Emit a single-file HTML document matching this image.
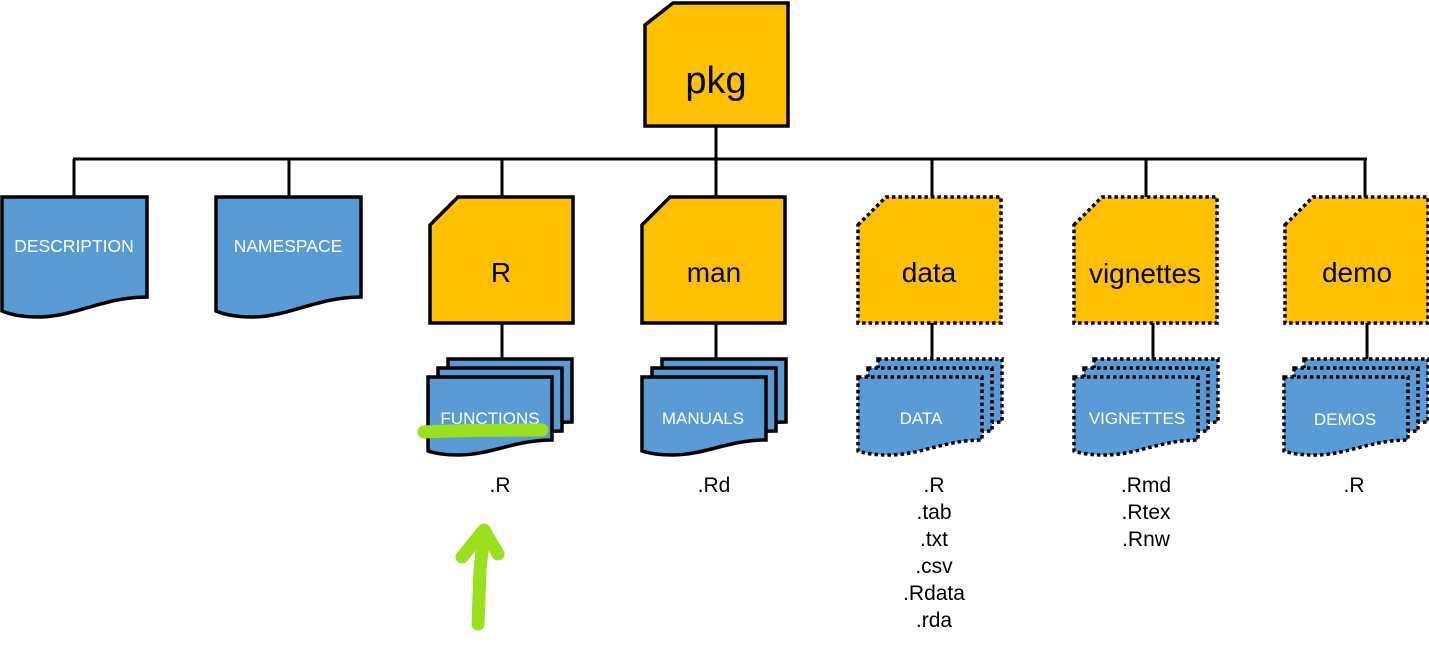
<!DOCTYPE html>
<html><head><meta charset="utf-8"><style>
html,body{margin:0;padding:0;background:#fff;}
svg{display:block;}
text{font-family:"Liberation Sans",Arial,sans-serif;}
</style></head><body>
<svg width="1429" height="646" viewBox="0 0 1429 646" xmlns="http://www.w3.org/2000/svg">
<defs>
<path id="doc" d="M0 377 H124 V440 C87 440 62 455 31 455 C15 455 6 453 0 451 Z"/>
<path id="fold" d="M0 225 L28 197 H143 V323 H0 Z"/>
</defs>
<g stroke="#000" stroke-width="3" fill="none">
<line x1="73" y1="159" x2="1367" y2="159"/>
<line x1="716" y1="126" x2="716" y2="159"/>
<line x1="74" y1="159" x2="74" y2="197"/>
<line x1="289" y1="159" x2="289" y2="197"/>
<line x1="502" y1="159" x2="502" y2="197"/>
<line x1="716" y1="159" x2="716" y2="197"/>
<line x1="932" y1="159" x2="932" y2="197"/>
<line x1="1146" y1="159" x2="1146" y2="197"/>
<line x1="1365" y1="159" x2="1365" y2="197"/>
<line x1="502" y1="323" x2="502" y2="359"/>
<line x1="716" y1="323" x2="716" y2="359"/>
<line x1="932" y1="323" x2="932" y2="359"/>
<line x1="1153" y1="323" x2="1153" y2="359"/>
<line x1="1367" y1="323" x2="1367" y2="359"/>
</g>
<!-- pkg -->
<path d="M645 25 L673 3 H788 V126 H645 Z" fill="#FFC000" stroke="#000" stroke-width="3.5"/>
<text x="716" y="93" font-size="38" text-anchor="middle">pkg</text>
<!-- description / namespace -->
<path d="M2 197 H147 V297 C103.5 297 74.5 317 38.25 317 C19.4 317 9.25 314 2 311 Z" fill="#5B9BD5" stroke="#000" stroke-width="3.5"/>
<text x="74" y="252" font-size="17.5" fill="#fff" text-anchor="middle">DESCRIPTION</text>
<path d="M216 197 H361 V297 C317.5 297 288.5 317 252.25 317 C233.4 317 223.25 314 216 311 Z" fill="#5B9BD5" stroke="#000" stroke-width="3.5"/>
<text x="288" y="252" font-size="17.5" fill="#fff" text-anchor="middle">NAMESPACE</text>
<!-- folders solid -->
<g fill="#FFC000" stroke="#000" stroke-width="3.5">
<use href="#fold" transform="translate(430,0)"/>
<use href="#fold" transform="translate(642,0)"/>
</g>
<g fill="#FFC000" stroke="#000" stroke-width="3.5" stroke-dasharray="3.5 3">
<use href="#fold" transform="translate(858,0)"/>
<use href="#fold" transform="translate(1074,0)"/>
<use href="#fold" transform="translate(1285,0)"/>
</g>
<g font-size="28" text-anchor="middle">
<text x="501" y="282">R</text>
<text x="714" y="282">man</text>
<text x="929" y="282">data</text>
<text x="1145" y="283">vignettes</text>
<text x="1357" y="282">demo</text>
</g>
<!-- stacks solid -->
<g fill="#5B9BD5" stroke="#000" stroke-width="3.5">
<g transform="translate(428,0)"><use href="#doc" transform="translate(20,-18)"/><use href="#doc" transform="translate(10,-9)"/><use href="#doc"/></g>
<g transform="translate(642,0)"><use href="#doc" transform="translate(20,-18)"/><use href="#doc" transform="translate(10,-9)"/><use href="#doc"/></g>
</g>
<g fill="#5B9BD5" stroke="#000" stroke-width="3.5" stroke-dasharray="3.5 3">
<g transform="translate(858,0)"><use href="#doc" transform="translate(20,-18)"/><use href="#doc" transform="translate(10,-9)"/><use href="#doc"/></g>
<g transform="translate(1074,0)"><use href="#doc" transform="translate(20,-18)"/><use href="#doc" transform="translate(10,-9)"/><use href="#doc"/></g>
<g transform="translate(1284,0)"><use href="#doc" transform="translate(20,-18)"/><use href="#doc" transform="translate(10,-9)"/><use href="#doc"/></g>
</g>
<g font-size="17" fill="#fff" text-anchor="middle">
<text x="490" y="424">FUNCTIONS</text>
<text x="703" y="424">MANUALS</text>
<text x="921" y="424">DATA</text>
<text x="1137" y="424">VIGNETTES</text>
<text x="1345" y="425">DEMOS</text>
</g>
<g font-size="21" text-anchor="middle">
<text x="500" y="492">.R</text>
<text x="714" y="492">.Rd</text>
<text x="934" y="492">.R</text>
<text x="934" y="519">.tab</text>
<text x="934" y="546">.txt</text>
<text x="934" y="573">.csv</text>
<text x="934" y="600">.Rdata</text>
<text x="934" y="627">.rda</text>
<text x="1146" y="492">.Rmd</text>
<text x="1146" y="519">.Rtex</text>
<text x="1146" y="546">.Rnw</text>
<text x="1354" y="492">.R</text>
</g>
<!-- green annotations -->
<g stroke="#9BE01D" stroke-width="13" stroke-linecap="round" stroke-linejoin="round" fill="none">
<path d="M424 432 C460 430 510 430 542 430"/>
<path d="M478 624 L480 570 L484 532"/>
<path d="M462 557 L484 530 L498 554"/>
</g>
</svg>
</body></html>
